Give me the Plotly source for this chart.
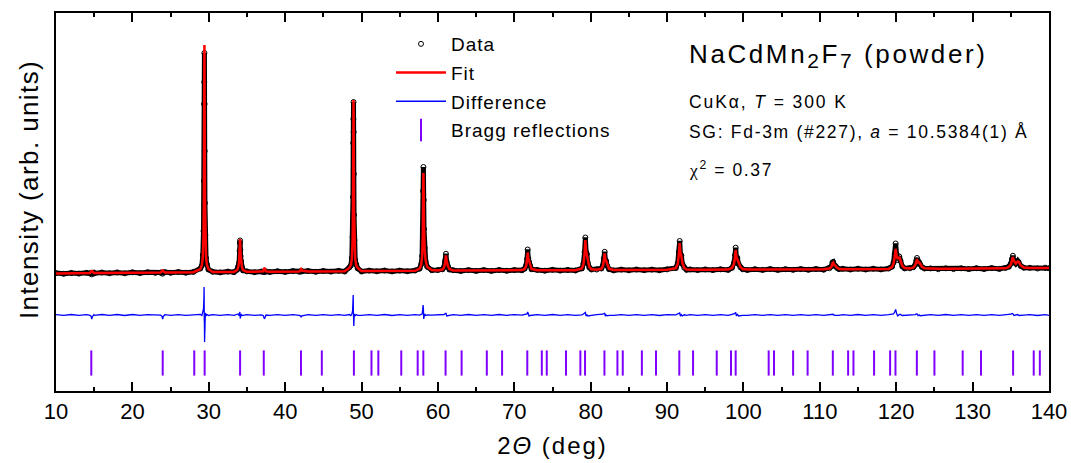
import plotly.graph_objects as go

# ---------------- data ----------------
two_theta = [
    10, 11, 12, 13, 14,
    14.45, 14.6, 14.68, 14.76, 14.95,
    15, 16, 17, 18, 19, 20, 21, 22, 23,
    23.7, 23.88, 23.96, 24.04, 24.25,
    25, 26, 27, 28,
    28.9, 29.1, 29.22, 29.31, 29.36, 29.39, 29.41, 29.43, 29.45, 29.47, 29.50, 29.55, 29.64, 29.76, 29.95,
    30.5, 31.5, 32.5, 33.3,
    33.72, 33.85, 33.97, 34.04, 34.07, 34.10, 34.13, 34.16, 34.23, 34.35, 34.48,
    35, 36, 36.9,
    37.12, 37.24, 37.3, 37.36, 37.5,
    38, 39, 40, 41, 41.85,
    42.0, 42.1, 42.2,
    43, 44, 45, 46, 47, 47.8,
    48.4, 48.6, 48.73, 48.83, 48.88, 48.91, 48.93, 48.95, 48.97, 48.99, 49.02, 49.07, 49.17, 49.30, 49.5,
    50, 51, 52, 53, 54, 55, 56, 57,
    57.6, 57.8, 57.93, 58.02, 58.06, 58.1, 58.14, 58.18, 58.26, 58.4, 58.6,
    59.2, 60,
    60.6, 60.8, 60.95, 61.05, 61.15, 61.3, 61.5,
    62, 63, 64, 65, 66, 67, 68, 69, 70, 71,
    71.35, 71.55, 71.67, 71.75, 71.83, 71.93, 72.05, 72.25,
    73, 74, 75, 76, 77, 78,
    78.85, 79.05, 79.2, 79.3, 79.4, 79.5, 79.62, 79.82, 80.1,
    80.8,
    81.4, 81.6, 81.73, 81.83, 81.92, 82.02, 82.15, 82.4,
    83, 84, 85, 86, 87, 88, 89, 90,
    91.15, 91.4, 91.55, 91.65, 91.75, 91.87, 92.0, 92.25, 92.55,
    93, 94, 95, 96, 97, 98,
    98.5, 98.75, 98.9, 98.98, 99.08, 99.2, 99.35, 99.6, 99.9,
    100.5, 101.5, 102.5, 103.5, 104.5, 105.5, 106.5, 107.5, 108.5, 109.5, 110.5,
    111.25, 111.5, 111.65, 111.75, 111.9, 112.05, 112.25, 112.5,
    113, 114, 115, 116, 117, 118, 119,
    119.45, 119.65, 119.8, 119.92, 120.05, 120.2, 120.4, 120.55, 120.8, 121.1,
    121.8,
    122.25, 122.5, 122.63, 122.72, 122.85, 123.0, 123.12, 123.35, 123.7,
    124.5, 125.5, 126.5, 127.5, 128.5, 129.5, 130.5, 131.5, 132.5, 133.5, 134.3,
    134.75, 135.0, 135.15, 135.27, 135.42, 135.65, 135.9, 136.05, 136.3, 136.7,
    137.5, 138.5, 139.5, 140,
]

y_calc = [
    117.5, 117.6, 117.6, 117.7, 117.8,
    117.9, 119.3, 120.8, 119.3, 118.0,
    118.0, 118.0, 118.1, 118.1, 118.2, 118.2, 118.3, 118.4, 118.4,
    118.5, 119.9, 121.4, 119.9, 118.6,
    118.6, 118.6, 118.7, 118.8,
    121.9, 126, 134, 154, 194, 259, 314, 346, 314, 259, 194, 154, 134, 126, 122,
    118.9, 119.0, 119.0, 119.1,
    121, 123.5, 129, 137, 145, 152, 145, 137, 129, 123.5, 121,
    119.2, 119.2, 119.3,
    119.8, 122, 123.2, 122, 119.6,
    119.3, 119.4, 119.4, 119.5, 119.5,
    120.5, 121.8, 120.5,
    119.6, 119.6, 119.7, 119.7, 119.8, 119.8,
    123, 126, 132, 150, 180, 228, 268, 291, 268, 228, 180, 150, 132, 126, 123,
    119.9, 120.0, 120.0, 120.0, 120.1, 120.1, 120.1, 120.2,
    122.5, 126, 134, 156, 190, 218, 195, 165, 142, 130, 124,
    121.0, 120.6,
    121.5, 123.5, 128.5, 135.5, 130, 125, 122,
    120.4, 120.4, 120.4, 120.4, 120.5, 120.5, 120.5, 120.5, 120.6, 120.9,
    122, 125, 131, 138.5, 133, 130, 126, 122,
    120.7, 120.7, 120.7, 120.8, 120.8, 120.8,
    122.5, 126.5, 137, 151, 140, 136.5, 129, 124, 121.8,
    121.2,
    122.2, 125, 131, 137.5, 132, 130, 126, 122.2,
    121.0, 121.0, 121.0, 121.1, 121.1, 121.1, 121.2, 121.2,
    122.8, 127, 137, 148, 138, 135, 128, 123, 121.5,
    121.2, 121.2, 121.2, 121.3, 121.3, 121.4,
    123, 127, 134, 141, 134, 132, 128, 124, 122,
    121.4, 121.4, 121.4, 121.5, 121.5, 121.5, 121.5, 121.6, 121.6, 121.6, 121.7,
    122.5, 124, 127.5, 128.3, 126, 125.3, 123.5, 122.2,
    121.8, 121.8, 121.8, 121.9, 121.9, 121.9, 122.1,
    124, 127.5, 134, 142, 135, 132, 134, 130, 125, 123,
    122.4,
    123.5, 126, 129.5, 132, 128.5, 128.5, 127.5, 124.5, 122.8,
    122.2, 122.2, 122.2, 122.3, 122.3, 122.3, 122.4, 122.4, 122.5, 122.5, 122.7,
    124, 126.5, 130.5, 134, 130, 127.5, 129.5, 129, 125.5, 123.5,
    122.9, 123.0, 123.0, 123.0,
]

y_obs = [
    117.9, 117.2, 118.1, 117.4, 118.2,
    117.6, 117.9, 116.6, 117.6, 118.3,
    117.6, 118.5, 117.8, 118.6, 117.7, 118.7, 117.9, 118.8, 118.1,
    118.3, 118.6, 117.3, 118.4, 118.9,
    118.2, 119.0, 118.3, 119.1,
    122.5, 125.5, 136, 160, 210, 287, 309, 338, 287, 240, 188, 156, 133, 126.5, 121.5,
    119.3, 118.6, 119.4, 118.8,
    121.3, 124.5, 128.2, 140, 148, 150.5, 141.5, 135, 129.8, 123.0, 120.6,
    119.6, 118.8, 119.5,
    119.3, 119.0, 119.3, 119.4, 119.6,
    119.0, 119.8, 119.1, 119.9, 119.2,
    119.7, 119.6, 119.7,
    120.0, 119.2, 120.1, 119.4, 120.2, 119.5,
    123.5, 125.5, 133, 154, 194, 248, 272, 289, 259, 217, 176, 151, 131, 126.5, 122.6,
    119.5, 120.4, 119.7, 120.5, 119.6, 120.4, 119.8, 120.5,
    122.3, 126.5, 135, 162, 200, 224, 191, 162, 143, 129.5, 124.2,
    120.8, 121.0,
    121.7, 124, 130, 137.2, 129, 124.3, 121.5,
    120.8, 120.0, 120.9, 120.1, 120.9, 120.1, 121.0, 120.2, 121.0, 120.7,
    122.3, 125.8, 132, 141.5, 132.5, 129, 125.5, 121.8,
    121.1, 120.3, 121.2, 120.4, 121.1, 120.5,
    122.6, 127.5, 139, 153.5, 139, 137, 128, 123.5, 121.5,
    121.5,
    122.5, 125.8, 132.5, 139.2, 131, 130, 125.2, 121.8,
    120.6, 121.4, 120.7, 121.5, 120.8, 121.4, 120.7, 121.6,
    123, 128, 139, 150, 137, 135.3, 127, 123.2, 121.2,
    121.6, 120.9, 121.6, 120.9, 121.7, 121.1,
    123.2, 128, 136, 143.3, 133, 133, 127, 123.6, 121.7,
    121.0, 121.8, 121.1, 121.9, 121.1, 121.8, 121.2, 121.9, 121.2, 122.0, 121.3,
    122.8, 124.4, 128.5, 129, 125.7, 125.0, 123.0, 121.9,
    122.2, 121.5, 122.3, 121.5, 122.3, 121.6, 122.5,
    124.3, 128.5, 137, 147.5, 136.5, 131, 134.5, 130.5, 124.5, 122.6,
    122.7,
    123.8, 126.4, 130.5, 133, 128.0, 128.7, 126.8, 124, 122.5,
    122.6, 121.8, 122.7, 121.9, 122.7, 121.9, 122.8, 122.0, 122.9, 122.1, 123.0,
    124.3, 127.3, 132, 135.2, 129.5, 127.3, 130, 128.5, 125, 123.3,
    123.2, 122.5, 123.3, 122.7,
]

bragg_positions = [
    14.62, 23.97, 28.1, 29.46, 34.1, 37.2, 42.07, 44.8, 49.0, 51.3, 52.2,
    55.2, 57.35, 58.09, 61.0, 63.1, 66.4, 68.4, 71.7, 73.6, 74.25, 76.77,
    78.65, 79.26, 81.8, 83.5, 84.2, 86.7, 88.55, 91.6, 93.4, 96.5, 98.37,
    98.98, 103.3, 104.0, 106.5, 108.4, 111.7, 113.7, 114.4, 117.1, 119.2,
    119.9, 122.7, 125.0, 128.7, 131.1, 135.3, 138.0, 138.8,
]

assert len(two_theta) == len(y_calc) == len(y_obs)

# ---------------- presentation ----------------
DIFF_OFFSET = 76      # vertical offset of the difference curve
BRAGG_LEVEL = 28      # vertical level of the Bragg tick row
FONT = "Liberation Sans, Arial, sans-serif"
PURPLE = "#8000ff"


def spaced(text, px):
    return f'<span style="letter-spacing:{px}px">{text}</span>'


y_diff = [o - c + DIFF_OFFSET for o, c in zip(y_obs, y_calc)]

fig = go.Figure()

# dense band formed by overlapping data circles
fig.add_trace(go.Scatter(x=two_theta, y=y_obs, mode="lines",
                         line=dict(color="black", width=5),
                         showlegend=False, hoverinfo="skip"))
fig.add_trace(go.Scatter(x=two_theta, y=y_obs, mode="markers",
                         name=spaced("Data", 1), legendgroup="a",
                         marker=dict(symbol="circle-open", size=5, color="black",
                                     line=dict(width=1, color="black"))))
fig.add_trace(go.Scatter(x=two_theta, y=y_calc, mode="lines",
                         name=spaced("Fit", 1), legendgroup="b",
                         line=dict(color="#ff0000", width=2.5)))
fig.add_trace(go.Scatter(x=two_theta, y=y_diff, mode="lines",
                         name=spaced("Difference", 1), legendgroup="c",
                         line=dict(color="#0000ff", width=1.3)))
fig.add_trace(go.Scatter(x=bragg_positions, y=[BRAGG_LEVEL] * len(bragg_positions),
                         mode="markers", name=spaced("Bragg reflections", 1),
                         legendgroup="d",
                         marker=dict(symbol="line-ns-open", size=18, color=PURPLE,
                                     line=dict(width=2, color=PURPLE))))
# carrier for the top (mirrored) tick axis
fig.add_trace(go.Scatter(x=[10, 140], y=[0, 0], xaxis="x2", mode="markers",
                         marker=dict(opacity=0), showlegend=False,
                         hoverinfo="skip"))


def px_x(px):
    return (px - 56) / 993


def px_y(py):
    return (391 - py) / 378


annotations = [
    dict(text=spaced("NaCdMn<sub><span style=\"font-size:21px\">2</span></sub>F"
                     "<sub><span style=\"font-size:21px\">7</span></sub> (powder)", 2.6),
         x=px_x(687), y=px_y(56), font=dict(size=26)),
    dict(text=spaced("CuKα, <i>T</i> = 300 K", 1.9), x=px_x(687), y=px_y(102),
         font=dict(size=17.5)),
    dict(text=spaced("SG: Fd-3m (#227), <i>a</i> = 10.5384(1) Å", 1.7),
         x=px_x(687), y=px_y(132), font=dict(size=17.5)),
    dict(text=spaced("<span style=\"font-family:'Liberation Serif'\">χ</span>"
                     "<sup>2</sup> = 0.37", 1.6),
         x=px_x(687), y=px_y(169), font=dict(size=17.5)),
    # y-axis title, placed where the reference has it
    dict(text=spaced("Intensity (arb. units)", 1.4), x=px_x(29), y=px_y(190),
         textangle=-90, xanchor="center", font=dict(size=26)),
]
for a in annotations:
    a.setdefault("xanchor", "left")
    a.update(xref="paper", yref="paper", yanchor="middle", showarrow=False)

fig.update_layout(
    width=1071, height=463,
    margin=dict(l=56, r=22, t=13, b=72, autoexpand=False),
    plot_bgcolor="white", paper_bgcolor="white",
    font=dict(family=FONT, color="black"),
    annotations=annotations,
    legend=dict(x=px_x(391), y=px_y(25), xanchor="left", yanchor="top",
                bgcolor="rgba(0,0,0,0)", font=dict(size=19), itemwidth=50,
                traceorder="grouped", tracegroupgap=1),
    xaxis=dict(range=[10, 140], tick0=10, dtick=10, ticks="inside", ticklen=9,
               tickwidth=2, tickcolor="black", showline=True, linewidth=2,
               linecolor="black", mirror="ticks", showgrid=False, zeroline=False,
               automargin=False, tickfont=dict(size=22),
               minor=dict(ticks="inside", ticklen=4, tickwidth=2, dtick=5,
                          tick0=10, tickcolor="black", showgrid=False),
               title=dict(text=spaced("2<i>Θ</i> (deg)", 2), font=dict(size=24),
                          standoff=14)),
    xaxis2=dict(range=[10, 140], matches="x", overlaying="x", side="top",
                anchor="y", tick0=10, dtick=10, ticks="inside", ticklen=9,
                tickwidth=2, tickcolor="black", showticklabels=False,
                showline=False, showgrid=False, zeroline=False, automargin=False,
                minor=dict(ticks="inside", ticklen=4, tickwidth=2, dtick=5,
                           tick0=10, tickcolor="black", showgrid=False)),
    yaxis=dict(range=[0, 378], showticklabels=False, ticks="", showline=True,
               linewidth=2, linecolor="black", mirror=True, showgrid=False,
               zeroline=False, automargin=False),
)

fig.write_html("out.html")
